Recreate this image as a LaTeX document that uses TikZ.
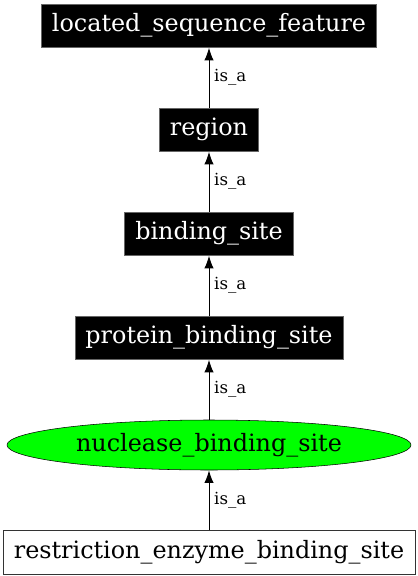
\documentclass[tikz,border=0pt]{standalone}
\usepackage{fontspec}
\setmainfont{DejaVu Serif}
\usetikzlibrary{positioning}
\usetikzlibrary{shapes.geometric}
\usetikzlibrary{arrows.meta}

\begin{document}
\begin{tikzpicture}
  \tikzstyle{term}=[
      rectangle, minimum height = 32.6pt, inner xsep = 8pt
    , draw = black!60, fill = black, text = white
    , font = \fontsize{17.9}{20}\selectfont
    , node distance = 45pt
    ]
  \tikzstyle{focus}=[
      ellipse, minimum width = 303pt, minimum height = 37.5pt, inner sep = 0pt
    , draw = black, fill = green
    , font = \fontsize{17.9}{20}\selectfont
    , node distance = 45pt
    ]
  \tikzstyle{child}=[
      rectangle, minimum height = 33pt, inner xsep = 8pt
    , draw = black!80, fill = white
    , font = \fontsize{17.9}{20}\selectfont
    , node distance = 45pt
    ]
  \tikzstyle{connect}=[-{Latex[length = 9.5pt, width = 7pt]}, line width = 0.75pt]
  \tikzstyle{rel}=[right, inner xsep = 3.5pt, font = \fontsize{12.5}{14}\selectfont]

  \useasboundingbox (0,0) rectangle (313.5pt,-432pt);

  \node[term] (lsf) at (156.75pt,-19.3pt) { located\_sequence\_feature };
  \node[term] (region) [below = of lsf] { region };
  \node[term] (bs) [below = of region] { binding\_site };
  \node[term] (pbs) [below = of bs] { protein\_binding\_site };
  \node[focus] (nbs) [below = of pbs] { nuclease\_binding\_site };
  \node[child] (rebs) [below = of nbs] { restriction\_enzyme\_binding\_site };

  \path (region) edge [connect] node[rel] { is\_a } (lsf);
  \path (bs) edge [connect] node[rel] { is\_a } (region);
  \path (pbs) edge [connect] node[rel] { is\_a } (bs);
  \path (nbs) edge [connect] node[rel] { is\_a } (pbs);
  \path (rebs) edge [connect] node[rel] { is\_a } (nbs);

\end{tikzpicture}
\end{document}
